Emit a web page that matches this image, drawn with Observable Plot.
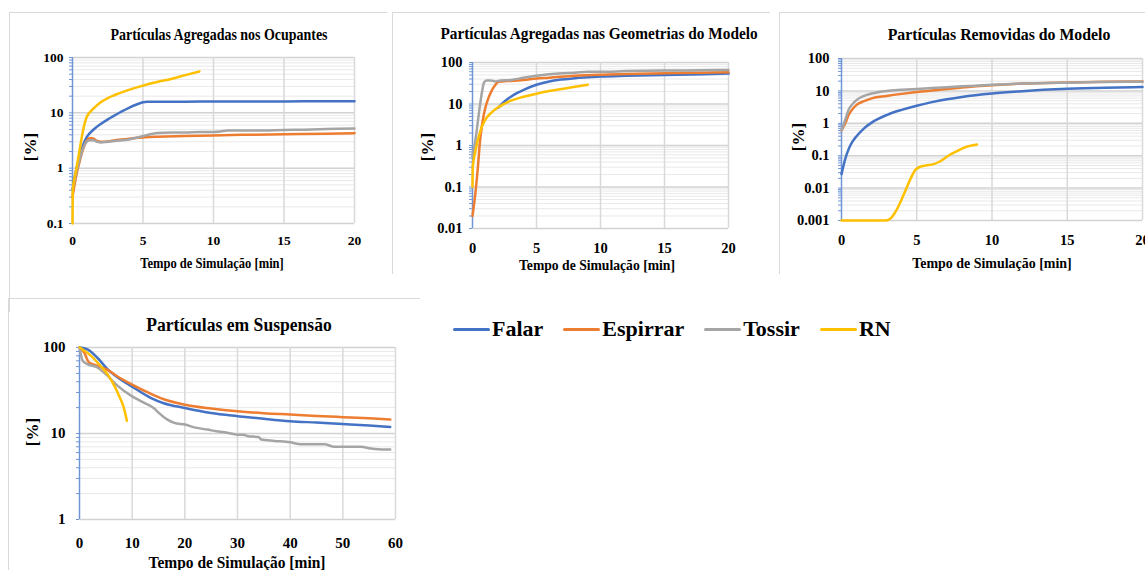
<!DOCTYPE html>
<html><head><meta charset="utf-8">
<script src="https://cdn.jsdelivr.net/npm/d3@7"></script>
<script src="https://cdn.jsdelivr.net/npm/@observablehq/plot@0.6"></script>
<style>
html,body{margin:0;padding:0;background:#fff;}
body{width:1145px;height:570px;position:relative;overflow:hidden;font-family:"Liberation Serif","Times New Roman",serif;font-weight:bold;color:#000;}
.abs{position:absolute;white-space:nowrap;line-height:1;}
.panel{position:absolute;border-top:1px solid #d9d9d9;border-left:1px solid #d9d9d9;box-sizing:border-box;}
.legend{position:absolute;display:flex;align-items:center;gap:20px;font-size:22px;line-height:1;}
.legend .item{display:flex;align-items:center;gap:2px;}
.legend .sw{width:37px;height:3px;border-radius:2px;}
</style></head><body>
<script>
// ---------- series ----------
const seriesNames = ["Falar", "Espirrar", "Tossir", "RN"];
const seriesColors = ["#4472C4", "#ED7D31", "#A5A5A5", "#FFC000"];

// ---------- Panel 1: Partículas Agregadas nos Ocupantes ----------
const p1Title = "Partículas Agregadas nos Ocupantes";
const p1XTicks = [0, 5, 10, 15, 20];
const p1YTicks = [0.1, 1, 10, 100];
const p1FalarT = [0,0.25,0.5,0.75,1,1.5,2,2.5,3,3.5,4,4.5,5,5.3,6,8,10,12,15,18,20];
const p1FalarV = [0.4,0.9,1.6,2.6,3.6,5.0,6.3,7.6,9.0,10.6,12.3,14.0,15.5,15.8,15.8,15.9,16.0,16.1,16.1,16.2,16.2];
const p1EspirrarT = [0,0.25,0.5,0.75,1,1.25,1.5,1.75,2,2.5,3,4,5,6,8,10,12,15,18,20];
const p1EspirrarV = [0.3,0.7,1.3,2.2,3.1,3.5,3.4,3.1,3.0,3.05,3.2,3.4,3.6,3.7,3.8,3.9,4.0,4.1,4.2,4.3];
const p1TossirT = [0,0.25,0.5,0.75,1,1.25,1.5,1.75,2,2.5,3,4,5,5.5,6,7,8,9,10,10.5,11,13,15,17,18,20];
const p1TossirV = [0.4,0.8,1.4,2.3,3.0,3.2,3.2,3.0,2.9,3.0,3.1,3.3,3.8,4.1,4.3,4.4,4.4,4.5,4.5,4.6,4.8,4.8,4.9,5.0,5.1,5.2];
const p1RNT = [0,0.02,0.25,0.5,0.75,1,1.5,2,2.5,3,4,5,6,7,8,9];
const p1RNV = [0.1,0.4,0.9,2.1,4.8,8.3,12,15.5,18.5,21,26,31,36,41,48,56];

// ---------- Panel 2: Partículas Agregadas nas Geometrias do Modelo ----------
const p2Title = "Partículas Agregadas nas Geometrias do Modelo";
const p2XTicks = [0, 5, 10, 15, 20];
const p2YTicks = [0.01, 0.1, 1, 10, 100];
const p2FalarT = [2,2.5,3,3.5,4,5,6,7,8,9,10,12,15,18,20];
const p2FalarV = [8,11.5,15,18.5,22,29,35,39,42,44,46,48,50,52,54];
const p2EspirrarT = [0,0.2,0.4,0.6,0.8,1,1.25,1.5,1.75,2,2.3,3,4,5,6,8,10,12,15,18,20];
const p2EspirrarV = [0.02,0.06,0.25,1.4,4,8,14,21,28,34,35,36,38,41,43,48,51,53,55,57,58];
const p2TossirT = [0,0.25,0.5,0.75,0.9,1.1,1.4,1.8,2,3,4,5,6,7,8,9,10,12,15,18,20];
const p2TossirV = [0.55,1.5,6,20,33,37,37,35,36,38,43,48,52,55,57,60,60,62,64,65,66];
const p2RNT = [0,0.02,0.2,0.6,1,1.5,2,3,4,5,6,7,8,9];
const p2RNV = [0.1,0.3,0.67,2.2,4.2,6.3,8.3,12,15,17.7,20.5,23,26,29];

// ---------- Panel 3: Partículas Removidas do Modelo ----------
const p3Title = "Partículas Removidas do Modelo";
const p3XTicks = [0, 5, 10, 15, 20];
const p3YTicks = [0.001, 0.01, 0.1, 1, 10, 100];
const p3FalarT = [0,0.25,0.5,0.75,1,1.5,2,3,4,5,6,7,8,10,12,15,17.5,20];
const p3FalarV = [0.027,0.08,0.17,0.28,0.4,0.7,1.05,1.8,2.6,3.5,4.5,5.5,6.5,8.3,9.8,11.6,12.6,13.2];
const p3EspirrarT = [0,0.25,0.5,0.75,1,1.5,2,3,4,5,6,8,10,12,15,17.5,20];
const p3EspirrarV = [0.6,1.0,1.9,2.8,3.7,4.8,5.9,7.0,8.1,9.2,10.3,12.8,15,16.8,18.2,19,19.6];
const p3TossirT = [0,0.25,0.5,0.75,1,1.5,2,3,4,5,6,8,10,12,15,17.5,20];
const p3TossirV = [0.6,1.3,2.8,4.0,5.2,7.0,8.3,10,10.8,11.5,12.2,13.8,15.5,16.8,18,18.8,19.3];
const p3RNT = [0,1,2,2.9,3.2,3.7,4.2,4.6,4.9,5.2,5.6,6,6.5,7.1,7.7,8.2,9];
const p3RNV = [0.001,0.001,0.001,0.001,0.0011,0.0023,0.0074,0.02,0.036,0.045,0.05,0.053,0.065,0.1,0.14,0.18,0.22];

// ---------- Panel 4: Partículas em Suspensão ----------
const p4Title = "Partículas em Suspensão";
const p4XTicks = [0, 10, 20, 30, 40, 50, 60];
const p4YTicks = [1, 10, 100];
const p4FalarT = [0,1.5,3.4,5.3,7.2,10,13.5,16,20,25,30,35,40,45,50,55,59];
const p4FalarV = [100,95,76,56,45,35,26,22.5,19.8,17.3,15.9,14.8,13.9,13.4,12.9,12.4,11.9];
const p4EspirrarT = [0,0.9,1.8,2.8,4,5.3,7,10,13.5,16,20,25,30,35,40,45,50,55,59];
const p4EspirrarV = [100,87,67,63,59,55,47,37,29,25,21.6,19.5,18.1,17.2,16.6,16,15.5,15,14.5];
const p4TossirT = [0,0.6,1.5,3.4,5.3,7.2,10,12.3,14.2,15,16.7,18,20,22,24.3,26,28,30,31,32,34,34.5,37,40,42,45,46.5,48.4,50,53.4,55.3,57.8,59];
const p4TossirV = [100,70,64,58.6,47,36,27,22.7,19.5,17.5,14.5,13.3,12.7,11.7,11.1,10.6,10.2,9.7,9.7,9.3,9.1,8.5,8.2,7.9,7.5,7.5,7.5,7.0,7.0,7.0,6.7,6.5,6.5];
const p4RNT = [0,2.2,4,5.3,6.6,7.5,8.4,9];
const p4RNV = [100,80,61,49,36,27.5,20,14.1];

const xTitle = "Tempo de Simulação [min]";
const yTitle = "[%]";

// ---------- helpers ----------
function rows(list) {
  return list.flatMap(([s, T, V]) => T.map((t, i) => ({series: s, t, v: V[i]})));
}
function addText(txt, x, y, size, sx, rot) {
  const d = document.createElement("div");
  d.className = "abs";
  d.textContent = txt;
  d.style.left = x + "px";
  d.style.top = y + "px";
  d.style.fontSize = size + "px";
  d.style.transform = `translate(-50%,-50%)` + (rot ? ` rotate(${rot}deg)` : "") + (sx ? ` scaleX(${sx})` : "");
  document.body.appendChild(d);
}
function addBox(l, t, w, h) {
  const d = document.createElement("div");
  d.className = "panel";
  Object.assign(d.style, {left: l + "px", top: t + "px", width: w + "px", height: h + "px"});
  document.body.appendChild(d);
}
function panel(cfg) {
  const majors = cfg.yTicks;
  const minors = [];
  for (let i = 0; i < majors.length - 1; i++) for (let k = 2; k <= 9; k++) minors.push(majors[i] * k);
  const axisBlue = "#6f95d6";
  const chart = Plot.plot({
    width: cfg.w, height: cfg.h,
    marginLeft: cfg.ml, marginRight: cfg.mr, marginTop: cfg.mt, marginBottom: cfg.mb,
    style: {fontFamily: '"Liberation Serif","Times New Roman",serif', fontWeight: "bold", fontSize: cfg.fs + "px", color: "#000", background: "transparent", overflow: "visible"},
    x: {domain: [cfg.xTicks[0], cfg.xTicks[cfg.xTicks.length - 1]]},
    y: {type: "log", domain: [majors[0], majors[majors.length - 1]]},
    color: {domain: seriesNames, range: seriesColors},
    marks: [
      Plot.gridY(minors, {stroke: "#e9e9e9", strokeOpacity: 1}),
      Plot.gridY(majors, {stroke: "#d2d2d2", strokeOpacity: 1, strokeWidth: 1.5}),
      Plot.gridX(cfg.xTicks.slice(1), {stroke: "#d9d9d9", strokeOpacity: 1, strokeWidth: 1.5}),
      Plot.axisY(minors.concat(majors), {tickSize: 3, fill: "none", stroke: axisBlue, label: null}),
      Plot.ruleX([cfg.xTicks[0]], {stroke: axisBlue, strokeWidth: 1.5}),
      Plot.axisY(majors, {tickSize: 0, tickPadding: cfg.yPad, tickFormat: d => String(d), label: null}),
      Plot.axisX(cfg.xTicks, {tickSize: 0, tickPadding: cfg.xPad, tickFormat: d => String(d), label: null}),
      Plot.line(cfg.rows, {x: "t", y: "v", z: "series", stroke: "series", strokeWidth: 2.5, curve: "monotone-x"})
    ]
  });
  chart.style.position = "absolute";
  chart.style.left = cfg.left + "px";
  chart.style.top = cfg.top + "px";
  chart.style.maxWidth = "none";
  document.body.appendChild(chart);
}

// ---------- panel frames ----------
addBox(9, 12, 378, 300);
addBox(392, 12, 378, 262);
addBox(779, 12, 400, 262);
addBox(8, 298, 412, 300);

// ---------- charts ----------
panel({left: 9, top: 12, w: 378, h: 262, ml: 63, mr: 33, mt: 45, mb: 51, fs: 13.5, yPad: 9, xPad: 12,
  xTicks: p1XTicks, yTicks: p1YTicks,
  rows: rows([["Falar", p1FalarT, p1FalarV], ["Espirrar", p1EspirrarT, p1EspirrarV], ["Tossir", p1TossirT, p1TossirV], ["RN", p1RNT, p1RNV]])});
panel({left: 392, top: 12, w: 378, h: 262, ml: 80, mr: 42, mt: 50, mb: 46, fs: 14.5, yPad: 10, xPad: 14,
  xTicks: p2XTicks, yTicks: p2YTicks,
  rows: rows([["Falar", p2FalarT, p2FalarV], ["Espirrar", p2EspirrarT, p2EspirrarV], ["Tossir", p2TossirT, p2TossirV], ["RN", p2RNT, p2RNV]])});
panel({left: 779, top: 12, w: 390, h: 262, ml: 62, mr: 27, mt: 46, mb: 54, fs: 14.5, yPad: 12, xPad: 14,
  xTicks: p3XTicks, yTicks: p3YTicks,
  rows: rows([["Falar", p3FalarT, p3FalarV], ["Espirrar", p3EspirrarT, p3EspirrarV], ["Tossir", p3TossirT, p3TossirV], ["RN", p3RNT, p3RNV]])});
panel({left: 8, top: 298, w: 412, h: 272, ml: 71, mr: 25, mt: 49, mb: 51, fs: 15, yPad: 14, xPad: 18,
  xTicks: p4XTicks, yTicks: p4YTicks,
  rows: rows([["Falar", p4FalarT, p4FalarV], ["Espirrar", p4EspirrarT, p4EspirrarV], ["Tossir", p4TossirT, p4TossirV], ["RN", p4RNT, p4RNV]])});

// ---------- titles ----------
addText(p1Title, 219, 34, 17, 0.82);
addText(p2Title, 599, 33, 17, 0.90);
addText(p3Title, 999, 34, 17, 0.93);
addText(p4Title, 239, 325, 18.5, 0.95);
addText(xTitle, 212, 263, 15.5, 0.81);
addText(xTitle, 597, 265, 15.5, 0.88);
addText(xTitle, 992, 263, 15.5, 0.90);
addText(xTitle, 237, 562, 17, 0.91);
addText(yTitle, 30, 147, 17, 0, -90);
addText(yTitle, 427, 147, 17, 0, -90);
addText(yTitle, 798, 137, 17, 0, -90);
addText(yTitle, 32, 432, 17, 0, -90);

// ---------- legend ----------
const lg = document.createElement("div");
lg.className = "legend";
lg.style.left = "453px";
lg.style.top = "318px";
seriesNames.forEach((n, i) => {
  const it = document.createElement("div");
  it.className = "item";
  const sw = document.createElement("span");
  sw.className = "sw";
  sw.style.background = seriesColors[i];
  const tx = document.createElement("span");
  tx.textContent = n;
  it.appendChild(sw); it.appendChild(tx);
  lg.appendChild(it);
});
document.body.appendChild(lg);
</script>
</body></html>
